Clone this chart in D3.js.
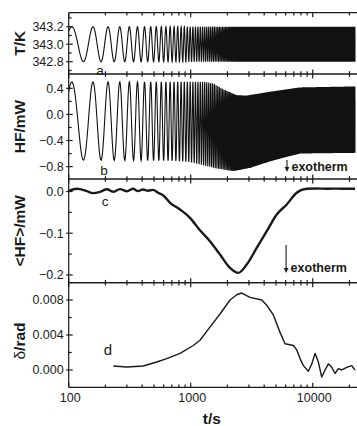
<!DOCTYPE html>
<html>
<head>
<meta charset="utf-8">
<script src="https://cdn.jsdelivr.net/npm/d3@7"></script>
<style>
  body { margin: 0; background: #fff; }
  svg { display: block; font-family: "Liberation Sans", Arial, sans-serif; }
</style>
</head>
<body>
<svg id="chart" width="357" height="426"></svg>
<script>
const modPeriod = 52;     // s
const modPeakAt = 106;    // s, first maximum
const tempMean = 343.0;   // K
const tempAmp = 0.2;      // K

// envelope of the modulated heat flow (mW)
const hfUpperTimes = [100, 1300, 1530, 1850, 2384, 2877, 4467, 6120, 7870, 22200];
const hfUpper      = [0.50, 0.50, 0.476, 0.385, 0.297, 0.29, 0.348, 0.385, 0.415, 0.43];
const hfLowerTimes = [100, 677, 987, 1268, 1634, 2235, 3063, 4467, 6120, 7870, 22200];
const hfLower      = [-0.70, -0.71, -0.73, -0.78, -0.83, -0.87, -0.82, -0.72, -0.65, -0.60, -0.59];

// averaged heat flow <HF> (mW)
const avgTimes = [100, 117, 139, 158, 181, 206, 231, 263, 300, 337, 370, 406, 447, 491, 540, 593, 677, 817, 987,
  1191, 1437, 1738, 2099, 2455, 2877, 3474, 4198, 5070, 6120, 7390, 8930, 10790, 13000, 16000, 19000, 22200];
const avgHf = [0.001, 0.0065, 0.0017, -0.0038, -0.0007, 0.0053, -0.0007, 0.0058, 0.0005, 0.0065, 0.001, 0.005, 0.002, 0.004,
  -0.003, -0.009, -0.027, -0.043, -0.063, -0.093, -0.119, -0.151, -0.183, -0.195, -0.175, -0.135, -0.095, -0.055, -0.031,
  -0.003, 0.0065, 0.0072, 0.0068, 0.007, 0.0066, 0.0065];

// phase angle delta (rad)
const deltaTimes = [232, 299, 409, 526, 636, 817, 1050, 1191, 1437, 1738, 2099, 2384, 2618, 3063, 3820, 4198, 4752, 5395,
  5930, 6935, 7390, 7870, 8380, 9210, 9820, 10450, 11120, 11850, 12620, 13430, 14320, 15240, 16220, 17290, 19000, 20880, 22200];
const delta = [0.00046, 0.00034, 0.00046, 0.00091, 0.0013, 0.0019, 0.0028, 0.0034, 0.0049, 0.0064, 0.0080, 0.0086, 0.0088,
  0.0083, 0.0080, 0.0074, 0.0063, 0.0043, 0.0030, 0.0028, 0.0023, 0.0013, 0.0005, -0.00015, 0.0007, 0.0019, 0.0009, -0.0008,
  0.0, 0.0007, 0.0003, -0.0004, 0.00015, 0.0, 0.0003, 0.0005, 0.0];

// ticks
const xMajor = [100, 1000, 10000];
const xMinor = [200, 300, 400, 500, 600, 700, 800, 900, 2000, 3000, 4000, 5000, 6000, 7000, 8000, 9000, 20000];
const tMajor = [342.8, 343.0, 343.2], tMinor = [342.7, 342.9, 343.1, 343.3];
const hfMajor = [-0.8, -0.4, 0.0, 0.4], hfMinor = [-0.6, -0.2, 0.2];
const avgMajor = [-0.2, -0.1, 0.0], avgMinor = [-0.15, -0.05];
const dMajor = [0.0, 0.004, 0.008], dMinor = [0.002, 0.006];

const svg = d3.select('#chart');
const x = d3.scaleLog().domain([100, 22200]).range([68.7, 355]);

const panels = [
  { id: 'a', top: 12.7, bottom: 74, domain: [342.66, 343.36], major: tMajor, minor: tMinor, fmt: d3.format('.1f') },
  { id: 'b', top: 74, bottom: 179, domain: [-0.99, 0.62], major: hfMajor, minor: hfMinor, fmt: d3.format('.1f') },
  { id: 'c', top: 179, bottom: 282.7, domain: [-0.2185, 0.030], major: avgMajor, minor: avgMinor, fmt: d3.format('.1f') },
  { id: 'd', top: 282.7, bottom: 387.3, domain: [-0.00198, 0.00998], major: dMajor, minor: dMinor, fmt: d3.format('.3f') }
];
panels.forEach(p => { p.y = d3.scaleLinear().domain(p.domain).range([p.bottom, p.top]); });

const ink = '#1a1a1a';
const [x0, x1] = x.range();

// clip each panel
const defs = svg.append('defs');
panels.forEach(p => {
  defs.append('clipPath').attr('id', 'clip-' + p.id)
    .append('rect').attr('x', x0).attr('y', p.top).attr('width', x1 - x0 + 2).attr('height', p.bottom - p.top);
});

// modulated signals
const phase = t => Math.sin(2 * Math.PI * (t - modPeakAt) / modPeriod + Math.PI / 2);
const modTimes = d3.range(100, 22200, modPeriod / 24);
const upper = d3.scaleLog().domain(hfUpperTimes).range(hfUpper);
const lower = d3.scaleLog().domain(hfLowerTimes).range(hfLower);

const lineFor = p => d3.line().x(d => x(d[0])).y(d => p.y(d[1]));

svg.append('path')
  .attr('clip-path', 'url(#clip-a)')
  .attr('d', lineFor(panels[0])(modTimes.map(t => [t, tempMean + tempAmp * phase(t)])))
  .attr('fill', 'none').attr('stroke', '#111').attr('stroke-width', 1.1);

svg.append('path')
  .attr('clip-path', 'url(#clip-b)')
  .attr('d', lineFor(panels[1])(modTimes.map(t => {
    const hi = upper(t), lo = lower(t);
    return [t, (hi + lo) / 2 + (hi - lo) / 2 * phase(t)];
  })))
  .attr('fill', 'none').attr('stroke', '#111').attr('stroke-width', 1.1);

svg.append('path')
  .attr('clip-path', 'url(#clip-c)')
  .attr('d', lineFor(panels[2]).curve(d3.curveMonotoneX)(avgTimes.map((t, i) => [t, avgHf[i]])))
  .attr('fill', 'none').attr('stroke', ink).attr('stroke-width', 2.4).attr('stroke-linejoin', 'round');

svg.append('path')
  .attr('clip-path', 'url(#clip-d)')
  .attr('d', lineFor(panels[3])(deltaTimes.map((t, i) => [t, delta[i]])))
  .attr('fill', 'none').attr('stroke', ink).attr('stroke-width', 1.4).attr('stroke-linejoin', 'round');

// axes: left spine, panel borders, inward ticks
const axes = svg.append('g').attr('stroke', ink).attr('stroke-width', 1.2);
axes.append('line').attr('x1', x0).attr('x2', x0).attr('y1', panels[0].top).attr('y2', panels[3].bottom);
panels.forEach(p => {
  [p.top, p.bottom].forEach((yy, k) => {
    const dir = k === 0 ? 1 : -1;
    axes.append('line').attr('x1', x0).attr('x2', x1 + 2).attr('y1', yy).attr('y2', yy);
    xMajor.forEach(v => axes.append('line').attr('x1', x(v)).attr('x2', x(v)).attr('y1', yy).attr('y2', yy + dir * 4.5));
    xMinor.forEach(v => axes.append('line').attr('x1', x(v)).attr('x2', x(v)).attr('y1', yy).attr('y2', yy + dir * 2.8));
  });
  p.major.forEach(v => axes.append('line').attr('x1', x0 - 2.5).attr('x2', x0 + 4).attr('y1', p.y(v)).attr('y2', p.y(v)));
  p.minor.filter(v => p.y(v) > p.top + 1 && p.y(v) < p.bottom - 1)
    .forEach(v => axes.append('line').attr('x1', x0).attr('x2', x0 + 3).attr('y1', p.y(v)).attr('y2', p.y(v)));

  svg.append('g').selectAll('text').data(p.major).join('text')
    .attr('x', x0 - 5).attr('y', v => p.y(v)).attr('dy', '0.35em')
    .attr('text-anchor', 'end').attr('font-size', 12.5).attr('fill', ink)
    .text(p.fmt);
});

// x tick labels and title
svg.append('g').selectAll('text').data(xMajor).join('text')
  .attr('x', d => x(d) + 1.5).attr('y', 402).attr('text-anchor', 'middle')
  .attr('font-size', 12.5).attr('fill', ink).text(d => d);
svg.append('text').attr('x', (x0 + x1) / 2).attr('y', 424).attr('text-anchor', 'middle')
  .attr('font-size', 15.5).attr('font-weight', 'bold').attr('fill', ink).text('t/s');

// y titles
const titles = [['T/K', 'a'], ['HF/mW', 'b'], ['<HF>/mW', 'c']];
titles.forEach(([label, id]) => {
  const p = panels.find(q => q.id === id);
  svg.append('text')
    .attr('transform', `translate(25,${(p.top + p.bottom) / 2}) rotate(-90)`)
    .attr('text-anchor', 'middle').attr('font-size', 15.5).attr('font-weight', 'bold').attr('fill', ink)
    .text(label);
});
const dTitle = svg.append('text')
  .attr('transform', `translate(25,${(panels[3].top + panels[3].bottom) / 2 + 6}) rotate(-90)`)
  .attr('text-anchor', 'middle').attr('font-size', 15.5).attr('fill', ink);
dTitle.append('tspan').text('δ');
dTitle.append('tspan').attr('font-weight', 'bold').text('/rad');

// panel letters
const letters = [['a', 100, 70], ['b', 104, 170], ['c', 105, 201], ['d', 108, 350]];
letters.forEach(([s, lx, ly]) => {
  svg.append('text').attr('x', lx).attr('y', ly).attr('dy', '0.35em').attr('text-anchor', 'middle')
    .attr('font-size', s === 'd' ? 15 : 13.5).attr('fill', ink).text(s);
});

// exotherm arrows
function exotherm(ax, yTop, yTip) {
  svg.append('line').attr('x1', ax).attr('x2', ax).attr('y1', yTop).attr('y2', yTip - 4)
    .attr('stroke', ink).attr('stroke-width', 1.1);
  svg.append('path').attr('d', `M${ax - 2.3},${yTip - 5}L${ax + 2.3},${yTip - 5}L${ax},${yTip}Z`).attr('fill', ink);
  svg.append('text').attr('x', ax + 4.5).attr('y', yTip - 1).attr('font-size', 12.5).attr('font-weight', 'bold')
    .attr('fill', ink).text('exotherm');
}
exotherm(x(6150), 160, 172);
exotherm(x(6050), 245, 273);
</script>
</body>
</html>
